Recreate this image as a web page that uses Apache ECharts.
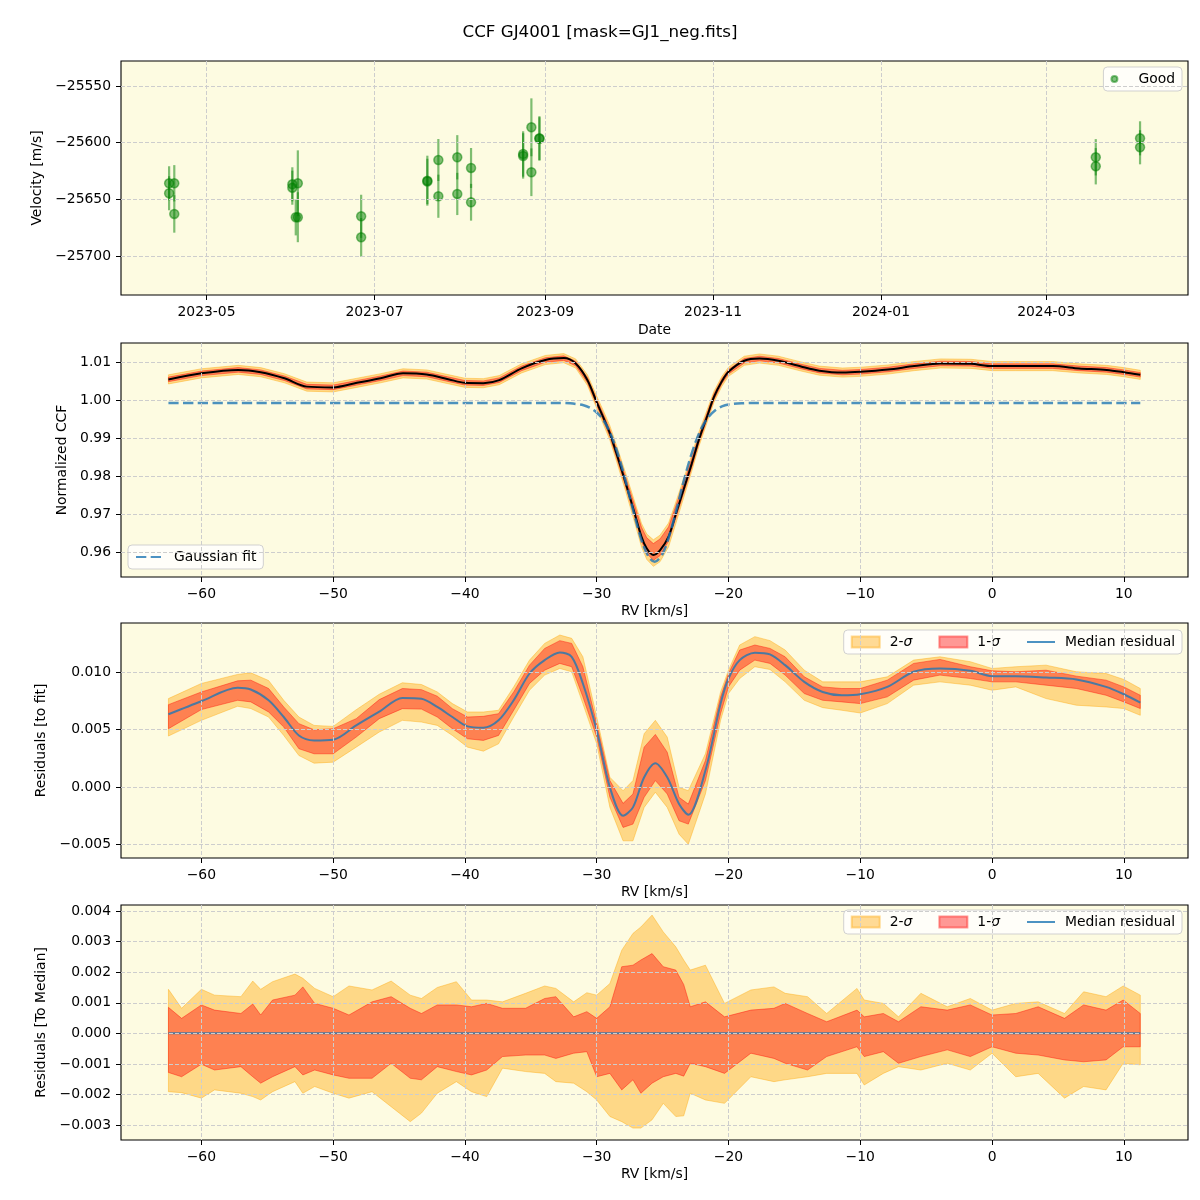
<!DOCTYPE html>
<html><head><meta charset="utf-8">
<script src="https://cdn.jsdelivr.net/npm/echarts@6/dist/echarts.min.js"></script>
<style>html,body{margin:0;padding:0;background:#fff}#c{width:1200px;height:1200px}</style>
</head><body><div id="c"></div><script>
// ---------- Panel 1: RV time series ----------
const rvDates = ['2023-04-17 10:00','2023-04-17 10:00','2023-04-19 07:00','2023-04-19 07:00',
  '2023-06-01 04:00','2023-06-01 04:00','2023-06-02 10:00','2023-06-03 04:00','2023-06-03 04:00',
  '2023-06-26 04:00','2023-06-26 04:00',
  '2023-07-20 05:00','2023-07-20 05:00','2023-07-24 05:00','2023-07-24 05:00','2023-07-31 02:00','2023-07-31 02:00','2023-08-05 02:00','2023-08-05 02:00',
  '2023-08-24 00:00','2023-08-24 00:00','2023-08-27 00:00','2023-08-27 00:00','2023-08-29 22:00','2023-08-29 22:00',
  '2024-03-19 00:00','2024-03-19 00:00','2024-04-04 02:00','2024-04-04 02:00'];
const rvValues = [-25635.7,-25644.5,-25635.7,-25662.7,
  -25636.6,-25639.6,-25665.6,-25635.7,-25665.6,
  -25664.8,-25683.3,
  -25633.4,-25634.1,-25615.2,-25647.1,-25612.8,-25645.1,-25622.2,-25652.4,
  -25609.9,-25611.6,-25586.4,-25626.0,-25596.1,-25596.5,
  -25612.8,-25620.7,-25596.1,-25604.0];
const rvErrors = [15,15,16,16.5,
  15,15,16,29,22,
  19,17,
  22,20,18.5,19,19.5,18.6,17.6,16.2,
  20,20,25.5,21,19.5,19,
  16,16,15,15];
const rvTickLabels = ['2023-05','2023-07','2023-09','2023-11','2024-01','2024-03'];
const rvRange = ['2023-03-30 22:30','2024-04-21 12:00'];
const velTicks = [-25700,-25650,-25600,-25550];

// ---------- Panel 2: CCF ----------
const ccfX = [-62.5,-60,-57.2,-55.5,-53.7,-52,-50,-48.2,-46.4,-44.7,-42.9,-41.2,-40,-38.6,-37.4,-35.7,-33.9,-32.5,-31.6,-30.7,-30,-29.5,-29,-28.5,-27.8,-27.2,-26.6,-26.2,-25.7,-25.2,-24.55,-24,-23.4,-22.8,-22.25,-21.6,-21.1,-20.5,-20,-18.8,-17.65,-16.2,-14.5,-13.1,-11.35,-10,-7.9,-5.9,-3.9,-1.6,0,1.8,4.6,6.6,8.7,10,11.25];
const ccfY = [1.0055,1.0071,1.0080,1.0074,1.0058,1.0036,1.0034,1.0046,1.0058,1.0071,1.0068,1.0055,1.0046,1.0045,1.0053,1.0084,1.0106,1.0111,1.0097,1.0053,0.9995,0.9955,0.9913,0.9860,0.9782,0.9712,0.9641,0.9610,0.9593,0.9605,0.9641,0.9700,0.9766,0.9832,0.9896,0.9960,1.0009,1.0050,1.0075,1.0104,1.0110,1.0104,1.0089,1.0078,1.0073,1.0075,1.0081,1.0090,1.0097,1.0096,1.0090,1.0090,1.0090,1.0084,1.0080,1.0074,1.0067];
// band half-widths (units of 1e-4)
const ccf2Up = [12,12,12,12,12,12,12,12,12,12,12,12,12,12,12,12,12,12,12,14,16,18,20,22,26,30,35,38,40,40,36,32,28,24,20,17,15,13,12,12,12,12,12,12,12,12,12,12,12,12,12,12,12,12,12,12,12];
const ccf2Dn = [12,12,12,12,12,12,12,12,12,12,12,12,12,12,12,12,12,12,12,14,16,18,18,20,22,24,27,29,30,30,27,25,22,20,18,16,14,13,12,12,12,12,12,12,12,12,12,12,12,12,12,12,12,12,12,12,12];
const ccf1Up = [6,6,6,6,6,6,6,6,6,6,6,6,6,6,6,6,6,6,6,7,8,9,10,12,15,20,25,28,30,30,26,22,16,13,10,9,8,7,6,6,6,6,6,6,6,6,6,6,6,6,6,6,6,6,6,6,6];
const ccf1Dn = [6,6,6,6,6,6,6,6,6,6,6,6,6,6,6,6,6,6,6,7,8,9,9,10,10,10,12,13,14,14,12,11,10,10,9,8,7,6,6,6,6,6,6,6,6,6,6,6,6,6,6,6,6,6,6,6,6];
const gaussX = [-62.5,-33,-32,-31,-30.5,-30,-29.5,-29,-28.5,-28,-27.5,-27,-26.5,-26,-25.6,-25,-24.5,-24,-23.5,-23,-22.5,-22,-21.5,-21,-20.5,-20,-19,-18,11.25];
const gaussY = [0.9993,0.9993,0.9992,0.9987,0.9980,0.9968,0.9948,0.9916,0.9871,0.9813,0.9746,0.9679,0.9621,0.9585,0.9575,0.9596,0.9643,0.9705,0.9774,0.9837,0.9890,0.9930,0.9957,0.9974,0.9984,0.9989,0.9992,0.9993,0.9993];
const ccfTicks = [0.96,0.97,0.98,0.99,1.00,1.01];
const rvKmsTicks = [-60,-50,-40,-30,-20,-10,0,10];

// ---------- Panel 3: residuals to fit ----------
const resX =   [-62.5,-60,-57.25,-56.25,-54.9,-53.75,-52.6,-51.45,-50,-48.25,-46.5,-44.75,-43.3,-42.1,-40.95,-39.8,-38.6,-37.45,-36.3,-35.1,-33.95,-32.8,-31.9,-31.05,-30,-29,-28,-27.25,-26.4,-25.55,-24.65,-23.75,-23.05,-21.75,-20.6,-20,-19.15,-18,-16.85,-15.7,-14.25,-12.85,-11.4,-10,-7.95,-5.95,-3.95,-1.65,0,1.8,4.1,6.4,8.65,10,11.25];
const resMed = [0.00635,0.00749,0.00866,0.00851,0.00757,0.00611,0.0045,0.00407,0.00413,0.00538,0.00658,0.00778,0.0077,0.00699,0.00611,0.00529,0.00518,0.00582,0.00757,0.00991,0.01108,0.01175,0.01137,0.00904,0.00494,-0.00003,-0.00251,-0.00178,0.00085,0.00208,0.00085,-0.00149,-0.00242,0.00144,0.00728,0.00947,0.01108,0.01173,0.01158,0.01064,0.00918,0.0083,0.00801,0.0081,0.00874,0.01006,0.01035,0.01015,0.00968,0.00968,0.00956,0.00939,0.00874,0.0081,0.00737];
const resHi2 = [0.00772,0.00904,0.00983,0.00997,0.0093,0.00757,0.00611,0.00538,0.00529,0.00675,0.0081,0.0091,0.00895,0.0083,0.00728,0.00655,0.00655,0.0067,0.00874,0.01108,0.01254,0.01327,0.01298,0.01137,0.00611,0.00085,-0.00032,0.00056,0.00465,0.00582,0.00436,-0.00003,-0.00032,0.0029,0.0083,0.0102,0.0124,0.01313,0.01278,0.01196,0.0102,0.00918,0.00918,0.00918,0.00962,0.01108,0.01137,0.01094,0.01035,0.0105,0.01064,0.01006,0.00991,0.00939,0.0086];
const resHi1 = [0.00719,0.0083,0.00927,0.00933,0.0086,0.00699,0.00553,0.005,0.00509,0.00597,0.00763,0.0086,0.0085,0.00793,0.00684,0.00611,0.00617,0.0064,0.0083,0.01064,0.0121,0.01278,0.01254,0.0105,0.00553,0.00056,-0.00143,-0.00061,0.00348,0.00459,0.00304,-0.0009,-0.00149,0.00231,0.00787,0.00991,0.01196,0.0124,0.0121,0.01137,0.00962,0.00874,0.0086,0.0086,0.00933,0.01079,0.01114,0.0105,0.01015,0.01006,0.0102,0.00968,0.00933,0.00874,0.00801];
const resLo1 = [0.00509,0.00676,0.00757,0.00743,0.00655,0.00524,0.00334,0.0029,0.0029,0.00436,0.00597,0.00684,0.0068,0.00611,0.00509,0.00421,0.00407,0.0045,0.0067,0.00904,0.0102,0.01079,0.0105,0.00787,0.00436,-0.0009,-0.00353,-0.00324,-0.0009,0.00056,-0.00061,-0.00295,-0.00324,0.00056,0.00641,0.00874,0.0102,0.01108,0.01079,0.00977,0.00816,0.00757,0.00743,0.00728,0.00787,0.00933,0.00977,0.00947,0.00918,0.00918,0.00889,0.0086,0.00801,0.00743,0.00685];
const resLo2 = [0.00445,0.00582,0.00705,0.00685,0.00611,0.0045,0.00275,0.00208,0.00217,0.00348,0.0048,0.00582,0.00567,0.00538,0.0045,0.00348,0.00313,0.00377,0.00611,0.00845,0.00977,0.01035,0.01006,0.00728,0.00377,-0.00178,-0.0047,-0.0047,-0.00178,-0.00046,-0.00178,-0.00412,-0.005,-0.00061,0.00582,0.00816,0.00947,0.0105,0.01026,0.00918,0.00757,0.00693,0.0067,0.00646,0.00728,0.00889,0.00918,0.00889,0.00845,0.00874,0.00772,0.00714,0.00699,0.00685,0.00626];
const resTicks = [-0.005,0,0.005,0.010];

// ---------- Panel 4: residuals to median ----------
const medX =   [-62.5,-61.5,-60,-59,-57,-56.1,-55.5,-54.6,-52.9,-52.3,-51.4,-50,-48.8,-47.05,-45.6,-44.15,-43.3,-42.1,-40.65,-39.5,-38.35,-37.15,-35.4,-33.95,-33.1,-31.75,-30.75,-30,-29,-28.1,-27.25,-26.65,-25.8,-24.95,-24,-23.4,-22.9,-21.75,-20.3,-18.3,-16.55,-15.7,-14,-12.55,-10.25,-9.7,-8.25,-7.1,-5.4,-3.4,-1.65,0,1.8,3.5,5.5,6.95,8.65,9.95,11.25];
const medMid = [0,0,0,0,0,0,0,0,0,0,0,0,0,0,0,0,0,0,0,0,0,0,0,0,0,0,0,0,0,0,0,0,0,0,0,0,0,0,0,0,0,0,0,0,0,0,0,0,0,0,0,0,0,0,0,0,0,0,0];
const medHi2 = [0.00144,0.00082,0.00144,0.00125,0.0012,0.00171,0.00144,0.00169,0.00194,0.0018,0.00147,0.0012,0.00155,0.00142,0.00171,0.00125,0.00114,0.0015,0.00169,0.00109,0.00109,0.00103,0.00131,0.00155,0.00147,0.00103,0.00133,0.00125,0.00163,0.00272,0.00327,0.00348,0.00387,0.00332,0.00283,0.0024,0.00207,0.00223,0.00098,0.00142,0.00152,0.00131,0.0012,0.00065,0.00147,0.00109,0.00098,0.00054,0.00131,0.00087,0.00114,0.00076,0.00098,0.00103,0.00065,0.00136,0.0012,0.00155,0.00125];
const medHi1 = [0.00085,0.00049,0.00093,0.00076,0.00065,0.00096,0.0006,0.00109,0.00125,0.00152,0.00098,0.00082,0.0006,0.00103,0.0012,0.00082,0.00065,0.00093,0.00093,0.00087,0.00098,0.00082,0.00082,0.00114,0.0012,0.00054,0.00071,0.00049,0.00087,0.00218,0.00223,0.0024,0.00261,0.00218,0.00207,0.0016,0.00087,0.00103,0.00054,0.00076,0.00082,0.00098,0.00065,0.00038,0.00076,0.00054,0.00065,0.00038,0.00087,0.00076,0.00093,0.0006,0.00065,0.00087,0.00049,0.00093,0.00076,0.00109,0.00065];
const medLo1 = [-0.00128,-0.00142,-0.00101,-0.0012,-0.00109,-0.00142,-0.00163,-0.00142,-0.00109,-0.00136,-0.0012,-0.00136,-0.00147,-0.00147,-0.00098,-0.00147,-0.00152,-0.00109,-0.00125,-0.00136,-0.0012,-0.00076,-0.00071,-0.00071,-0.00082,-0.00065,-0.0006,-0.00142,-0.00131,-0.00185,-0.00152,-0.00196,-0.00163,-0.00142,-0.00131,-0.0014,-0.00098,-0.00109,-0.00131,-0.00065,-0.00082,-0.00098,-0.0012,-0.00076,-0.00044,-0.00076,-0.0006,-0.00098,-0.00076,-0.00054,-0.00076,-0.00044,-0.00065,-0.00071,-0.00087,-0.00093,-0.00087,-0.00044,-0.00044];
const medLo2 = [-0.00191,-0.00194,-0.00212,-0.00185,-0.00196,-0.00207,-0.00218,-0.00191,-0.00158,-0.00196,-0.00174,-0.00196,-0.00212,-0.00191,-0.0024,-0.00289,-0.00261,-0.00196,-0.00158,-0.00191,-0.00207,-0.00114,-0.00125,-0.00131,-0.00158,-0.00163,-0.00191,-0.00218,-0.00272,-0.00289,-0.0031,-0.0031,-0.00283,-0.00229,-0.00272,-0.0027,-0.00196,-0.00218,-0.00229,-0.00142,-0.00158,-0.00152,-0.00142,-0.00131,-0.00131,-0.00169,-0.00131,-0.00109,-0.0012,-0.00098,-0.0012,-0.00065,-0.00142,-0.00131,-0.00212,-0.00174,-0.00185,-0.00098,-0.00103];
const medTicks = [-0.003,-0.002,-0.001,0,0.001,0.002,0.003,0.004];

// ---------- styling ----------
const FONT = 'DejaVu Sans';
const FS = 13.9;
const BG = '#fdfbe1';
const C_ORANGE = 'rgba(255,165,0,0.4)';
const C_RED = 'rgba(255,0,0,0.4)';
const C_BLUE = 'rgba(31,119,180,0.8)';
const C_GREEN = 'rgba(0,128,0,0.5)';
const NONE = 'rgba(0,0,0,0)';

function parseLocal(s){const m=s.match(/(\d+)-(\d+)-(\d+)(?: (\d+):(\d+))?/);return new Date(+m[1],+m[2]-1,+m[3],+(m[4]||0),+(m[5]||0)).getTime();}
const dateTicks = rvTickLabels.map(s=>{const [y,m]=s.split('-');return new Date(+y,+m-1,1).getTime();});
const rvTimes = rvDates.map(parseLocal);
const minus = s => s.replace('-', '\u2212');

function gridBox(top,height){return {left:121,top:top,width:1067,height:height,show:true,backgroundColor:BG,borderColor:'#000',borderWidth:1.1,containLabel:false,outerBoundsMode:'none'};}
function axisParts(ticks, fmt){
  return {
    axisLine:{show:false,onZero:false},
    axisTick:{show:true,length:5,customValues:ticks,lineStyle:{color:'#000',width:1}},
    axisLabel:{customValues:ticks,formatter:fmt,color:'#000',fontSize:FS,fontFamily:FONT,margin:10},
    splitLine:{show:true,lineStyle:{color:'#cdcdcd',width:1,type:[4,2]}},
    z:5
  };
}
function xRV(idx){
  return Object.assign({type:'value',gridIndex:idx,position:'bottom',min:-66.1,max:14.87,name:'RV [km/s]',nameLocation:'middle',nameGap:27,
    nameTextStyle:{fontSize:FS,color:'#000',fontFamily:FONT}}, axisParts(rvKmsTicks, v=>minus(String(v))));
}
function yAx(idx,min,max,ticks,dec,name,gap){
  return Object.assign({type:'value',gridIndex:idx,position:'left',min:min,max:max,name:name,nameLocation:'middle',nameGap:gap,
    nameTextStyle:{fontSize:FS,color:'#000',fontFamily:FONT}}, axisParts(ticks, v=>minus(dec===null?String(v):v.toFixed(dec))));
}
function band(name, idx, xs, lo, hi, fill){
  return {
    type:'custom', name:name, xAxisIndex:idx, yAxisIndex:idx, z:2, silent:true,
    data: xs.map((x,i)=>[x, lo[i], hi[i]]),
    encode:{x:0,y:[1,2]},
    itemStyle:{color:fill,borderColor:fill,borderWidth:1},
    renderItem:function(params, api){
      if (params.dataIndex !== 0) return null;
      const pts=[];
      for(let i=0;i<xs.length;i++) pts.push(api.coord([xs[i],hi[i]]));
      for(let i=xs.length-1;i>=0;i--) pts.push(api.coord([xs[i],lo[i]]));
      return {type:'polygon',shape:{points:pts},style:{fill:fill,stroke:fill,lineWidth:1}};
    }
  };
}
function legendBox(extra){
  return Object.assign({backgroundColor:'rgba(255,255,255,0.8)',borderColor:'rgba(204,204,204,0.9)',borderWidth:1,borderRadius:4,
    padding:[5,7,5,7],itemWidth:28,itemHeight:11,itemGap:26,
    formatter:n=>n.replace('σ','{i|σ}'),
    textStyle:{fontSize:FS,color:'#000',fontFamily:FONT,padding:[0,0,0,5],rich:{i:{fontStyle:'italic',fontSize:FS,fontFamily:FONT,color:'#000'}}}}, extra);
}

const ccfHi2 = ccfY.map((v,i)=>v+ccf2Up[i]*1e-4), ccfLo2 = ccfY.map((v,i)=>v-ccf2Dn[i]*1e-4);
const ccfHi1 = ccfY.map((v,i)=>v+ccf1Up[i]*1e-4), ccfLo1 = ccfY.map((v,i)=>v-ccf1Dn[i]*1e-4);

const option = {
  animation:false,
  textStyle:{fontFamily:FONT},
  title:{text:'CCF GJ4001 [mask=GJ1_neg.fits]',left:'center',top:24,padding:0,
    textStyle:{fontSize:16.7,fontWeight:'normal',color:'#000',fontFamily:FONT}},
  grid:[gridBox(61,234),gridBox(343,234),gridBox(623,235),gridBox(905,235)],
  xAxis:[
    Object.assign({type:'value',gridIndex:0,position:'bottom',min:parseLocal(rvRange[0]),max:parseLocal(rvRange[1]),name:'Date',nameLocation:'middle',nameGap:28,
      nameTextStyle:{fontSize:FS,color:'#000',fontFamily:FONT}},
      axisParts(dateTicks, v=>{const d=new Date(v);return d.getFullYear()+'-'+String(d.getMonth()+1).padStart(2,'0');})),
    xRV(1), xRV(2), xRV(3)
  ],
  yAxis:[
    yAx(0,-25734.1,-25528.0,velTicks,null,'Velocity [m/s]',73),
    yAx(1,0.9535,1.01508,ccfTicks,2,'Normalized CCF',48),
    yAx(2,-0.0062,0.01432,resTicks,3,'Residuals [to fit]',68),
    yAx(3,-0.00349,0.0042,medTicks,3,'Residuals [To Median]',68)
  ],
  legend:[
    legendBox({data:['Good'],right:18,top:67,itemWidth:28,itemHeight:6,icon:'circle'}),
    legendBox({data:['Gaussian fit'],left:128,top:545}),
    legendBox({data:[{name:'2-σ',icon:'rect'},{name:'1-σ',icon:'rect'},'Median residual'],right:18,top:630}),
    legendBox({data:[{name:'2-σ',icon:'rect'},{name:'1-σ',icon:'rect'},'Median residual'],right:18,top:910})
  ],
  series:[
    {type:'custom',name:'errbars',xAxisIndex:0,yAxisIndex:0,z:2,silent:true,
      data:rvTimes.map((t,i)=>[t,rvValues[i]-rvErrors[i],rvValues[i]+rvErrors[i]]),
      encode:{x:0,y:[1,2]},
      renderItem:function(params,api){
        const x=api.value(0);const p1=api.coord([x,api.value(1)]);const p2=api.coord([x,api.value(2)]);
        return {type:'line',shape:{x1:p1[0],y1:p1[1],x2:p2[0],y2:p2[1]},style:{stroke:C_GREEN,lineWidth:2.2}};
      }},
    {type:'scatter',name:'Good',xAxisIndex:0,yAxisIndex:0,z:3,symbol:'circle',symbolSize:9,
      data:rvTimes.map((t,i)=>[t,rvValues[i]]),
      itemStyle:{color:C_GREEN,borderColor:C_GREEN,borderWidth:1.5,opacity:1}},

    band('2-σ',1,ccfX,ccfLo2,ccfHi2,C_ORANGE),
    band('1-σ',1,ccfX,ccfLo1,ccfHi1,C_RED),
    {type:'line',name:'CCF',xAxisIndex:1,yAxisIndex:1,z:3,symbol:'none',smooth:0.3,
      data:ccfX.map((x,i)=>[x,ccfY[i]]),lineStyle:{color:'#000',width:2}},
    {type:'line',name:'Gaussian fit',xAxisIndex:1,yAxisIndex:1,z:4,symbol:'none',smooth:0.3,
      data:gaussX.map((x,i)=>[x,gaussY[i]]),itemStyle:{color:NONE,borderWidth:0},lineStyle:{color:C_BLUE,width:2.5,type:[10.3,4.4]}},

    band('2-σ',2,resX,resLo2,resHi2,C_ORANGE),
    band('1-σ',2,resX,resLo1,resHi1,C_RED),
    {type:'line',name:'Median residual',xAxisIndex:2,yAxisIndex:2,z:3,symbol:'none',smooth:0.3,
      data:resX.map((x,i)=>[x,resMed[i]]),itemStyle:{color:NONE,borderWidth:0},lineStyle:{color:C_BLUE,width:2}},

    band('2-σ',3,medX,medLo2,medHi2,C_ORANGE),
    band('1-σ',3,medX,medLo1,medHi1,C_RED),
    {type:'line',name:'Median residual',xAxisIndex:3,yAxisIndex:3,z:3,symbol:'none',
      data:medX.map((x,i)=>[x,medMid[i]]),itemStyle:{color:NONE,borderWidth:0},lineStyle:{color:C_BLUE,width:2}}
  ]
};
const chart = echarts.init(document.getElementById('c'), null, {renderer:'canvas'});
chart.setOption(option);
</script></body></html>
